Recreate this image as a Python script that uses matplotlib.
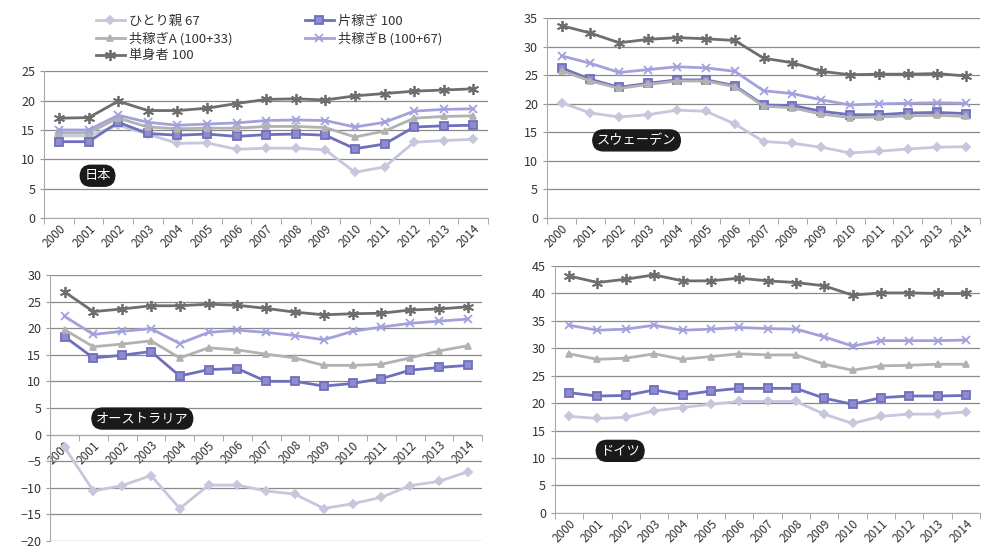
import matplotlib
matplotlib.use("Agg")
import matplotlib.pyplot as plt
import numpy as np

plt.rcParams['font.family'] = ['Noto Sans CJK JP', 'DejaVu Sans']

# years on the x axis
years = [str(y) for y in range(2000, 2015)]

series_names = ["ひとり親 67", "片稼ぎ 100", "共稼ぎA (100+33)", "共稼ぎB (100+67)", "単身者 100"]

# Japan
jp_single_parent = [14.0, 14.0, 15.8, 14.3, 12.7, 12.8, 11.7, 11.9, 11.9, 11.6, 7.8, 8.7, 12.9, 13.2, 13.4]
jp_one_earner = [13.0, 13.0, 16.3, 14.4, 14.1, 14.3, 13.9, 14.2, 14.3, 14.1, 11.8, 12.6, 15.5, 15.7, 15.8]
jp_two_earner_a = [14.5, 14.5, 17.0, 15.5, 15.2, 15.3, 15.3, 15.6, 15.6, 15.4, 13.8, 14.8, 17.0, 17.3, 17.4]
jp_two_earner_b = [15.0, 15.0, 17.5, 16.3, 15.8, 16.0, 16.2, 16.6, 16.7, 16.6, 15.5, 16.3, 18.2, 18.5, 18.6]
jp_single = [17.0, 17.1, 19.9, 18.3, 18.3, 18.7, 19.5, 20.2, 20.3, 20.1, 20.8, 21.2, 21.6, 21.8, 22.0]

# Sweden
se_single_parent = [20.2, 18.4, 17.7, 18.1, 18.9, 18.7, 16.5, 13.4, 13.1, 12.4, 11.4, 11.7, 12.1, 12.4, 12.5]
se_one_earner = [26.3, 24.3, 22.9, 23.6, 24.2, 24.2, 23.2, 19.8, 19.7, 18.7, 18.1, 18.1, 18.4, 18.5, 18.3]
se_two_earner_a = [25.8, 24.0, 22.7, 23.4, 24.0, 24.0, 23.0, 19.6, 19.3, 18.2, 17.6, 17.7, 17.9, 18.0, 17.8]
se_two_earner_b = [28.4, 27.1, 25.5, 26.0, 26.5, 26.3, 25.7, 22.3, 21.8, 20.7, 19.8, 20.0, 20.1, 20.2, 20.1]
se_single = [33.7, 32.4, 30.7, 31.3, 31.6, 31.4, 31.1, 28.0, 27.2, 25.7, 25.1, 25.2, 25.2, 25.3, 24.9]

# Australia
au_single_parent = [-2.4, -10.6, -9.6, -7.7, -13.9, -9.5, -9.5, -10.6, -11.2, -13.9, -13.0, -11.8, -9.6, -8.8, -7.0]
au_one_earner = [18.4, 14.4, 14.9, 15.6, 11.0, 12.2, 12.4, 10.0, 10.0, 9.1, 9.6, 10.5, 12.1, 12.6, 13.0]
au_two_earner_a = [19.7, 16.5, 17.0, 17.6, 14.4, 16.3, 15.9, 15.1, 14.4, 13.0, 13.0, 13.2, 14.4, 15.7, 16.7]
au_two_earner_b = [22.2, 18.8, 19.4, 19.9, 17.1, 19.2, 19.6, 19.2, 18.6, 17.8, 19.4, 20.2, 20.9, 21.3, 21.7]
au_single = [26.8, 23.1, 23.6, 24.2, 24.2, 24.5, 24.3, 23.7, 23.0, 22.5, 22.7, 22.8, 23.4, 23.6, 24.0]

# Germany
de_single_parent = [17.6, 17.2, 17.4, 18.6, 19.2, 19.8, 20.3, 20.3, 20.3, 18.0, 16.3, 17.6, 18.0, 18.0, 18.4]
de_one_earner = [21.9, 21.3, 21.4, 22.4, 21.5, 22.2, 22.7, 22.7, 22.7, 20.9, 19.8, 21.0, 21.3, 21.3, 21.4]
de_two_earner_a = [29.0, 28.0, 28.2, 29.0, 28.0, 28.5, 29.0, 28.8, 28.8, 27.1, 26.0, 26.8, 26.9, 27.1, 27.1]
de_two_earner_b = [34.2, 33.3, 33.5, 34.2, 33.3, 33.5, 33.8, 33.6, 33.5, 32.1, 30.4, 31.4, 31.4, 31.4, 31.5]
de_single = [43.2, 42.0, 42.6, 43.4, 42.3, 42.3, 42.8, 42.3, 42.0, 41.4, 39.7, 40.1, 40.1, 40.0, 40.0]

# line styles: (line colour, marker, marker face, marker size)
styles = [
    ("#c6c6dc", "D", "#c6c6dc", 4),
    ("#6f6fbd", "s", "#8c8ccf", 6),
    ("#b2b2b2", "^", "#b2b2b2", 5),
    ("#a3a1dc", "x", "#a3a1dc", 6),
    ("#6e6e6e", (6, 2, 0), "#6e6e6e", 8),
]

panels = [
    ("日本", [jp_single_parent, jp_one_earner, jp_two_earner_a, jp_two_earner_b, jp_single],
     [0.045, 0.605, 0.451, 0.266], (0, 25), (1.3, 7.2)),
    ("スウェーデン", [se_single_parent, se_one_earner, se_two_earner_a, se_two_earner_b, se_single],
     [0.556, 0.605, 0.44, 0.362], (0, 35), (2.6, 13.6)),
    ("オーストラリア", [au_single_parent, au_one_earner, au_two_earner_a, au_two_earner_b, au_single],
     [0.051, 0.02, 0.439, 0.482], (-20, 30), (2.7, 3.0)),
    ("ドイツ", [de_single_parent, de_one_earner, de_two_earner_a, de_two_earner_b, de_single],
     [0.564, 0.071, 0.432, 0.447], (0, 45), (1.8, 11.3)),
]

fig = plt.figure(figsize=(9.84, 5.52), dpi=100)
x = np.arange(len(years))
handles = []

for title, data, rect, ylim, label_pos in panels:
    ax = fig.add_axes(rect)
    # move the category axis to zero first, it resets the tick setup
    if ylim[0] < 0:
        ax.spines["bottom"].set_position(("data", 0))
    lines = []
    for values, (col, mk, mfc, ms) in zip(data, styles):
        ln, = ax.plot(x, values, color=col, lw=2, marker=mk, markersize=ms,
                      markerfacecolor=mfc, markeredgecolor=col, markeredgewidth=1.3)
        lines.append(ln)
    handles = lines
    ax.set_xlim(-0.5, len(years) - 0.5)
    ax.set_ylim(*ylim)
    ax.set_yticks(np.arange(ylim[0], ylim[1] + 1, 5))
    ax.yaxis.grid(True, color="#8a8a8a", lw=0.9)
    ax.set_axisbelow(True)
    ax.set_xticks(x)
    ax.set_xticklabels(years, rotation=45, ha="right", rotation_mode="anchor", fontsize=8.5, color="#333333")
    ax.set_xticks(np.arange(-0.5, len(years)), minor=True)
    ax.tick_params(axis="x", which="major", length=0, pad=3)
    ax.tick_params(axis="x", which="minor", length=4, color="#999999")
    ax.tick_params(axis="y", length=3, color="#999999", labelsize=9, labelcolor="#333333")
    for s in ["top", "right"]:
        ax.spines[s].set_visible(False)
    ax.spines["left"].set_color("#aaaaaa")
    ax.spines["bottom"].set_color("#aaaaaa")
    ax.text(label_pos[0], label_pos[1], title, color="white", fontsize=9.5,
            ha="center", va="center",
            bbox=dict(boxstyle="round,pad=0.3,rounding_size=0.8", fc="#1a1a1a", ec="#1a1a1a"))

order = [0, 2, 4, 1, 3]
fig.legend([handles[i] for i in order], [series_names[i] for i in order],
           loc="upper left", bbox_to_anchor=(0.085, 0.995), ncol=2, frameon=False,
           fontsize=9.5, labelspacing=0.3, columnspacing=5.5, handlelength=2.2,
           handletextpad=0.3, labelcolor="#333333")

fig.savefig("out.png", dpi=100)
